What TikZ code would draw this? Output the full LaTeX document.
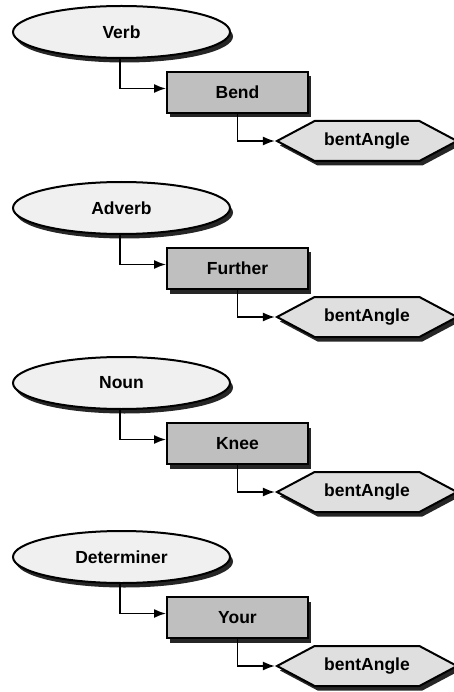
\documentclass[tikz,border=0pt]{standalone}
\usepackage{fontspec}
\setmainfont{Liberation Sans}
\usetikzlibrary{shapes.geometric,shapes.symbols,shadows,arrows.meta}

\tikzset{
  shapebase/.style={draw=black, line width=2pt, text=black, inner sep=0pt,
    font=\fontsize{17.5}{17.5}\selectfont\bfseries,
    drop shadow={shadow xshift=3pt, shadow yshift=-4.5pt, fill=black, opacity=0.85}},
  wordclass/.style={shapebase, ellipse, fill=gray!12,
    minimum width=217pt, minimum height=52pt},
  wordbox/.style={shapebase, rectangle, fill=gray!50,
    minimum width=141pt, minimum height=41pt},
  tagshape/.style={shapebase, signal, signal to=west and east,
    signal pointer angle=56, fill=gray!25,
    minimum width=180pt, minimum height=40pt},
  conn/.style={draw=black, line width=1.6pt,
    -{Latex[length=12pt,width=9pt]}},
}

\begin{document}
\begin{tikzpicture}[x=1pt,y=-1pt]
  \useasboundingbox (0,0) rectangle (454,692);
  \foreach \dy/\cls/\wrd [count=\i] in
      {0/Verb/Bend, 176/Adverb/Further, 351/Noun/Knee, 525/Determiner/Your} {
    \node[wordclass] (cls\i)  at (121.5, 32+\dy) {\cls};
    \node[wordbox]   (word\i) at (237.5, 92.5+\dy) {\wrd};
    \node[tagshape]  (tag\i)  at (367, 141+\dy) {bentAngle};
    \draw[conn] ([xshift=-1.5pt]cls\i.south) |- ([yshift=4pt]word\i.west);
    \draw[conn] (word\i.south) |- (tag\i.west);
  }
\end{tikzpicture}
\end{document}
